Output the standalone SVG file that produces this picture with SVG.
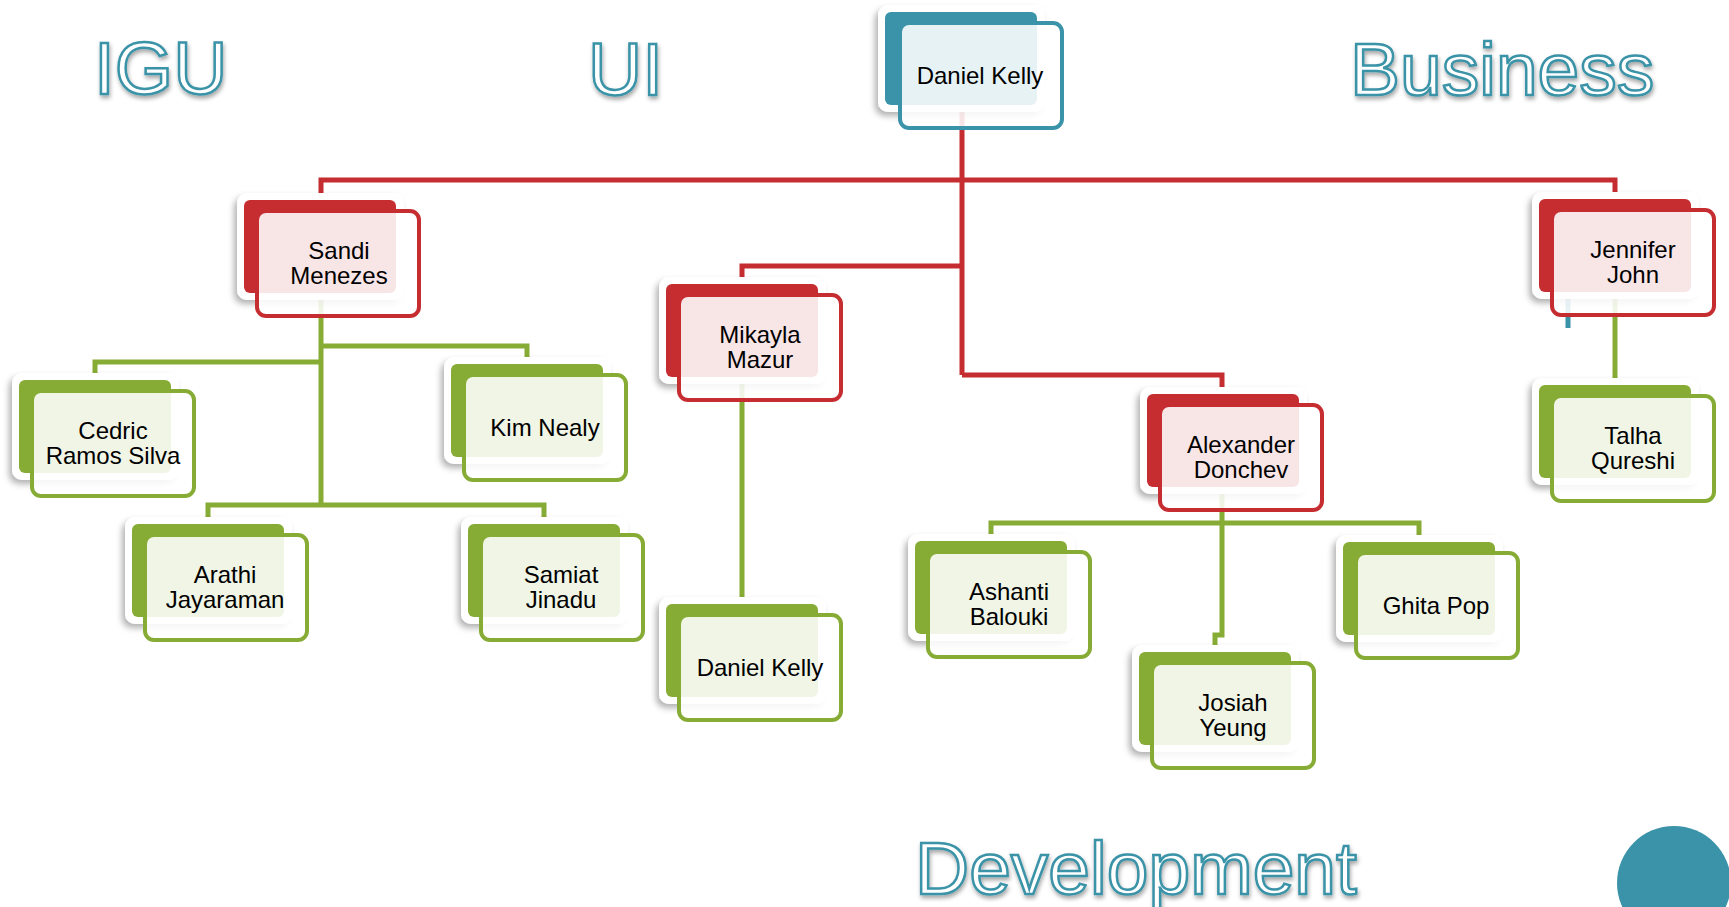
<svg xmlns="http://www.w3.org/2000/svg" width="1729" height="907" viewBox="0 0 1729 907">
<defs>
<filter id="sh" x="-20%" y="-20%" width="140%" height="150%">
<feDropShadow dx="-3" dy="4" stdDeviation="3" flood-color="#000" flood-opacity="0.3"/>
</filter>
<filter id="tsh" x="-10%" y="-20%" width="120%" height="160%">
<feDropShadow dx="1" dy="3" stdDeviation="2" flood-color="#000" flood-opacity="0.35"/>
</filter>
</defs>
<style>
.title{font-family:"Liberation Sans",Arial,sans-serif;font-size:75px;fill:#fff;stroke:#3A93A8;stroke-width:2.5px;filter:url(#tsh)}
.bd{fill:#fff;filter:url(#sh)}
.fr{fill:#fff;fill-opacity:0.88;stroke-width:4}
.t .bk{fill:#3A93A8}.t .fr{stroke:#3A93A8}
.r .bk{fill:#C62D31}.r .fr{stroke:#C62D31}
.g .bk{fill:#87AC35}.g .fr{stroke:#87AC35}
.lbl{font-family:"Liberation Sans",Arial,sans-serif;font-size:24px;fill:#000;text-anchor:middle}
.red{stroke:#C62D31;stroke-width:5;fill:none}
.grn{stroke:#87AC35;stroke-width:5;fill:none}
.tl{stroke:#3A93A8;stroke-width:5;fill:none}
</style>
<rect width="1729" height="907" fill="#fff"/>
<text class="title" x="94" y="94">IGU</text>
<text class="title" x="588" y="95">UI</text>
<text class="title" x="1350" y="95">Business</text>
<text class="title" x="915" y="894">Development</text>
<circle cx="1674" cy="883" r="57" fill="#3A93A8"/>
<g id="connectors">
<path class="red" d="M962,60 V375"/>
<path class="red" d="M321,250 V180 H1615 V250"/>
<path class="red" d="M962,266 H742 V330"/>
<path class="red" d="M962,375 H1222 V440"/>
<path class="grn" d="M321,290 V505"/>
<path class="grn" d="M321,346 H527 V400"/>
<path class="grn" d="M321,362 H95 V420"/>
<path class="grn" d="M208,560 V505 H544 V560"/>
<path class="grn" d="M742,380 V650"/>
<path class="grn" d="M1222,480 V635 H1215 V690"/>
<path class="grn" d="M991,580 V523 H1419 V580"/>
<path class="grn" d="M1615,290 V420"/>
<path class="tl" d="M1568,290 V328"/>
</g>
<g id="n-daniel-top" class="t" transform="translate(878,5)">
<rect class="bd" width="167" height="107" rx="10"/><rect class="bk" x="7" y="7" width="152" height="93" rx="6"/><rect class="fr" x="22" y="18" width="162" height="105" rx="9"/>
<text class="lbl" x="102" y="79">Daniel Kelly</text></g>
<g id="n-sandi" class="r" transform="translate(237,193)">
<rect class="bd" width="167" height="107" rx="10"/><rect class="bk" x="7" y="7" width="152" height="93" rx="6"/><rect class="fr" x="20" y="18" width="162" height="105" rx="9"/>
<text class="lbl" x="102" y="66">Sandi</text><text class="lbl" x="102" y="90.5">Menezes</text></g>
<g id="n-mikayla" class="r" transform="translate(659,277)">
<rect class="bd" width="167" height="107" rx="10"/><rect class="bk" x="7" y="7" width="152" height="93" rx="6"/><rect class="fr" x="20" y="18" width="162" height="105" rx="9"/>
<text class="lbl" x="101" y="66">Mikayla</text><text class="lbl" x="101" y="90.5">Mazur</text></g>
<g id="n-jennifer" class="r" transform="translate(1532,192)">
<rect class="bd" width="167" height="107" rx="10"/><rect class="bk" x="7" y="7" width="152" height="93" rx="6"/><rect class="fr" x="20" y="18" width="162" height="105" rx="9"/>
<text class="lbl" x="101" y="66">Jennifer</text><text class="lbl" x="101" y="90.5">John</text></g>
<g id="n-alexander" class="r" transform="translate(1140,387)">
<rect class="bd" width="167" height="107" rx="10"/><rect class="bk" x="7" y="7" width="152" height="93" rx="6"/><rect class="fr" x="20" y="18" width="162" height="105" rx="9"/>
<text class="lbl" x="101" y="66">Alexander</text><text class="lbl" x="101" y="90.5">Donchev</text></g>
<g id="n-cedric" class="g" transform="translate(12,373)">
<rect class="bd" width="167" height="107" rx="10"/><rect class="bk" x="7" y="7" width="152" height="93" rx="6"/><rect class="fr" x="20" y="18" width="162" height="105" rx="9"/>
<text class="lbl" x="101" y="66">Cedric</text><text class="lbl" x="101" y="90.5">Ramos Silva</text></g>
<g id="n-kim" class="g" transform="translate(444,357)">
<rect class="bd" width="167" height="107" rx="10"/><rect class="bk" x="7" y="7" width="152" height="93" rx="6"/><rect class="fr" x="20" y="18" width="162" height="105" rx="9"/>
<text class="lbl" x="101" y="79">Kim Nealy</text></g>
<g id="n-arathi" class="g" transform="translate(125,517)">
<rect class="bd" width="167" height="107" rx="10"/><rect class="bk" x="7" y="7" width="152" height="93" rx="6"/><rect class="fr" x="20" y="18" width="162" height="105" rx="9"/>
<text class="lbl" x="100" y="66">Arathi</text><text class="lbl" x="100" y="90.5">Jayaraman</text></g>
<g id="n-samiat" class="g" transform="translate(461,517)">
<rect class="bd" width="167" height="107" rx="10"/><rect class="bk" x="7" y="7" width="152" height="93" rx="6"/><rect class="fr" x="20" y="18" width="162" height="105" rx="9"/>
<text class="lbl" x="100" y="66">Samiat</text><text class="lbl" x="100" y="90.5">Jinadu</text></g>
<g id="n-daniel-bottom" class="g" transform="translate(659,597)">
<rect class="bd" width="167" height="107" rx="10"/><rect class="bk" x="7" y="7" width="152" height="93" rx="6"/><rect class="fr" x="20" y="18" width="162" height="105" rx="9"/>
<text class="lbl" x="101" y="79">Daniel Kelly</text></g>
<g id="n-ashanti" class="g" transform="translate(908,534)">
<rect class="bd" width="167" height="107" rx="10"/><rect class="bk" x="7" y="7" width="152" height="93" rx="6"/><rect class="fr" x="20" y="18" width="162" height="105" rx="9"/>
<text class="lbl" x="101" y="66">Ashanti</text><text class="lbl" x="101" y="90.5">Balouki</text></g>
<g id="n-josiah" class="g" transform="translate(1132,645)">
<rect class="bd" width="167" height="107" rx="10"/><rect class="bk" x="7" y="7" width="152" height="93" rx="6"/><rect class="fr" x="20" y="18" width="162" height="105" rx="9"/>
<text class="lbl" x="101" y="66">Josiah</text><text class="lbl" x="101" y="90.5">Yeung</text></g>
<g id="n-ghita" class="g" transform="translate(1336,535)">
<rect class="bd" width="167" height="107" rx="10"/><rect class="bk" x="7" y="7" width="152" height="93" rx="6"/><rect class="fr" x="20" y="18" width="162" height="105" rx="9"/>
<text class="lbl" x="100" y="79">Ghita Pop</text></g>
<g id="n-talha" class="g" transform="translate(1532,378)">
<rect class="bd" width="167" height="107" rx="10"/><rect class="bk" x="7" y="7" width="152" height="93" rx="6"/><rect class="fr" x="20" y="18" width="162" height="105" rx="9"/>
<text class="lbl" x="101" y="66">Talha</text><text class="lbl" x="101" y="90.5">Qureshi</text></g>
</svg>
